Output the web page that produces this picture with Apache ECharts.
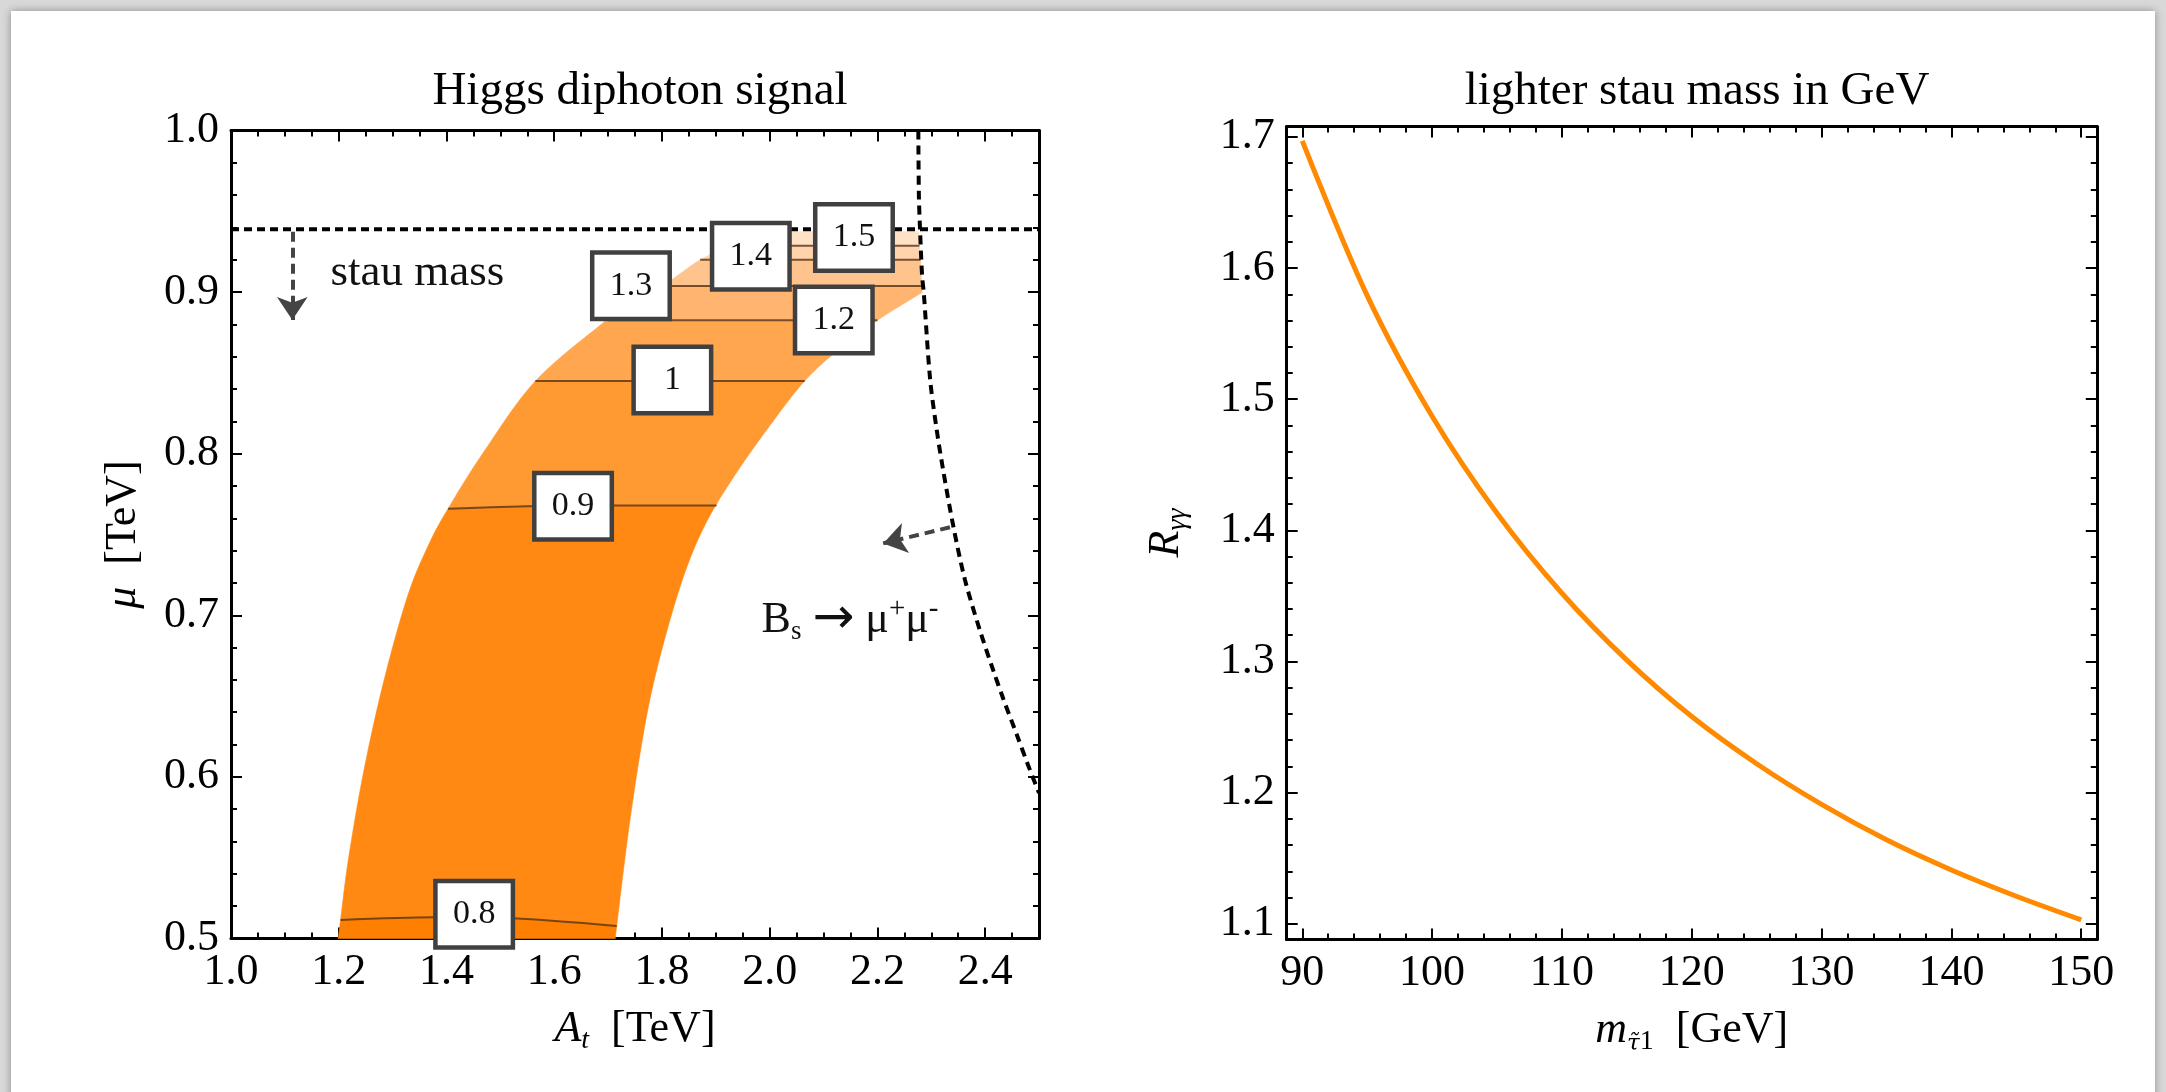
<!DOCTYPE html>
<html>
<head>
<meta charset="utf-8">
<script src="https://cdn.jsdelivr.net/npm/echarts@6.0.0/dist/echarts.min.js"></script>
<style>
  html, body { margin: 0; padding: 0; width: 2166px; height: 1092px; overflow: hidden; background: #d8d8d8; }
  #sheet { position: absolute; left: 11px; top: 11px; width: 2144px; height: 1110px; background: #fff; box-shadow: 0 0 8px rgba(0,0,0,0.35); }
  #chart { position: absolute; left: 0; top: 0; width: 2166px; height: 1092px; }
</style>
</head>
<body>
<div id="sheet"></div>
<div id="chart"></div>
<script>
// 左图：Higgs diphoton 信号带，A_t / μ 平面（TeV）
const bandLeft = [[1.199,0.5],[1.2034,0.5114],[1.218,0.549],[1.2456,0.602],[1.282,0.657],[1.327,0.711],[1.366,0.743],
  [1.403,0.766],[1.469,0.801],[1.565,0.845],[1.687,0.880],[1.70,0.8826],[1.801,0.9038],[1.871,0.920],[1.93,0.9288],[1.99,0.9374]];
// 右边界：自然边界 + 被 Bs 线截断的部分
const bandRightCurve = [[1.7135,0.5],[1.716,0.5077],[1.7407,0.5734],[1.770,0.635],[1.800,0.679],[1.840,0.724],[1.880,0.756],
  [1.930,0.784],[1.995,0.815],[2.065,0.845],[2.135,0.8665],[2.2,0.8826],[2.283,0.8998]];
const bandRightClip = [[2.283,0.8998],[2.282,0.9038],[2.280,0.920],[2.278,0.9288],[2.276,0.9374]];
const bandBottom = [[1.199,0.5],[1.7135,0.5]];
const bandTop = [[1.99,0.9374],[2.276,0.9374]];
const contourLevels = ['0.8','0.9','1','1.2','1.3','1.4','1.5'];
const contourLines = [
  [[1.2034,0.5114],[1.376,0.5131],[1.524,0.5124],[1.716,0.5077]],
  [[1.403,0.766],[1.65,0.768],[1.901,0.768]],
  [[1.565,0.845],[2.065,0.845]],
  [[1.70,0.8826],[2.2,0.8826]],
  [[1.801,0.9038],[2.282,0.9038]],
  [[1.871,0.920],[2.280,0.920]],
  [[1.93,0.9288],[2.278,0.9288]]
];
const bandColors = ['#ff7f00','#ff8912','#ff9a33','#ffa64f','#ffb570','#ffc48e','#ffd3ab','#ffe1c5'];
const contourLabelPos = [[1.4514,0.515],[1.635,0.7675],[1.8194,0.8456],[2.119,0.8828],[1.7425,0.904],[1.965,0.9223],[2.1565,0.9338]];
const stauLine = [[1.0,0.939],[2.5,0.939]];
const bsLine = [[2.276,1.0],[2.277,0.96],[2.279,0.94],[2.283,0.91],[2.286,0.90],[2.298,0.8456],[2.31,0.815],[2.322,0.79],
  [2.341,0.755],[2.3625,0.722],[2.39,0.691],[2.415,0.666],[2.434,0.648],[2.46,0.625],[2.48,0.607],[2.5,0.59]];
const stauArrow = [[1.1138,0.9374],[1.1138,0.8828]];
const bsArrow = [[2.3347,0.7545],[2.2108,0.7445]];
const stauTextPos = [1.1838,0.912];
const bsTextPos = [1.984,0.697];
const leftXTicks = [1.0,1.2,1.4,1.6,1.8,2.0,2.2,2.4];
const leftYTicks = [0.5,0.6,0.7,0.8,0.9,1.0];

// 右图：R_γγ 随较轻 stau 质量变化
const stauMass = [90,95,100,105,110,115,120,125,130,135,140,145,150];
const rGammaGamma = [1.697,1.579,1.487,1.413,1.352,1.301,1.258,1.222,1.191,1.164,1.141,1.121,1.103];
const rightXTicks = [90,100,110,120,130,140,150];
const rightYTicks = [1.1,1.2,1.3,1.4,1.5,1.6,1.7];

const FONT = '"Liberation Serif", "Times New Roman", serif';

function steps(a, b, d) {
  const out = [];
  for (let v = a; v <= b + d / 2; v += d) out.push(+v.toFixed(4));
  return out;
}

// Catmull-Rom 平滑，只用于画边界
function spline(pts, n) {
  const out = [pts[0]];
  for (let i = 0; i < pts.length - 1; i++) {
    const p0 = pts[Math.max(i - 1, 0)], p1 = pts[i], p2 = pts[i + 1], p3 = pts[Math.min(i + 2, pts.length - 1)];
    for (let k = 1; k <= n; k++) {
      const t = k / n, t2 = t * t, t3 = t2 * t;
      const pt = [0, 1].map(d => 0.5 * (2 * p1[d] + (p2[d] - p0[d]) * t +
        (2 * p0[d] - 5 * p1[d] + 4 * p2[d] - p3[d]) * t2 + (3 * p1[d] - p0[d] - 3 * p2[d] + p3[d]) * t3));
      if (k === n) out.push(p2); else out.push(pt);
    }
  }
  return out;
}

const nameRich = {
  i: { fontStyle: 'italic', fontFamily: FONT, fontSize: 44, lineHeight: 50 },
  si: { fontStyle: 'italic', fontFamily: FONT, fontSize: 28, lineHeight: 26, verticalAlign: 'bottom' },
  st: { fontStyle: 'italic', fontFamily: '"DejaVu Serif", serif', fontSize: 23, lineHeight: 26, verticalAlign: 'bottom' },
  su: { fontFamily: FONT, fontSize: 28, lineHeight: 26, verticalAlign: 'bottom' }
};

// 每个边框方向四条轴：带标签主刻度、次刻度、对边主刻度、对边次刻度
function frameAxes(grid, dim, min, max, major, minor, fmt, name, nameGap) {
  const pos = dim === 'x' ? ['bottom', 'top'] : ['left', 'right'];
  const axes = [];
  pos.forEach((p, k) => {
    [major, minor].forEach((vals, m) => {
      const main = k === 0 && m === 0;
      axes.push({
        type: 'value', gridIndex: grid, min, max, position: p,
        axisLine: { show: m === 0, onZero: false, lineStyle: { color: '#000', width: 3 } },
        axisTick: { show: true, inside: true, length: m === 0 ? 11 : 6, customValues: vals,
          lineStyle: { color: '#000', width: 2 } },
        axisLabel: { show: main, customValues: major, formatter: fmt, margin: 12,
          fontFamily: FONT, fontSize: 44, color: '#000' },
        splitLine: { show: false },
        name: main ? name : '',
        nameLocation: 'middle', nameGap: nameGap, nameMoveOverlap: false,
        nameTextStyle: { fontFamily: FONT, fontSize: 44, color: '#000', lineHeight: 50, rich: nameRich }
      });
    });
  });
  return axes;
}

const fmt1 = v => (+v).toFixed(1);
const fmt0 = v => String(Math.round(v));

const xAxes = [].concat(
  frameAxes(0, 'x', 1.0, 2.5, leftXTicks, steps(1.0, 2.5, 0.05), fmt1, '{i|A}{si|t}  [TeV]', 66),
  frameAxes(1, 'x', 88.8, 151.2, rightXTicks, steps(90, 150, 2), fmt0, '{i|m}{st|τ\u0303}{su|1}  [GeV]', 66)
);
const yAxes = [].concat(
  frameAxes(0, 'y', 0.5, 1.0, leftYTicks, steps(0.5, 1.0, 0.02), fmt1, '{i|μ}  [TeV]', 83),
  frameAxes(1, 'y', 1.088, 1.708, rightYTicks, steps(1.1, 1.7, 0.02), fmt1, '{i|R}{si|γγ}', 95)
);

const edges = [bandBottom].concat(contourLines, [bandTop]);
const series = [];

// 填充色带：两条等值线之间，左右用平滑边界
series.push({
  type: 'custom', xAxisIndex: 0, yAxisIndex: 0, z: 1, silent: true,
  data: edges.slice(1).map(e => e[0]),
  renderItem(params, api) {
    const i = params.dataIndex;
    const lower = edges[i], upper = edges[i + 1];
    const leftS = spline(bandLeft, 12);
    const rightS = spline(bandRightCurve, 12).concat(spline(bandRightClip, 6).slice(1));
    const yLoR = lower[lower.length - 1][1], yHiR = upper[upper.length - 1][1];
    const yLoL = lower[0][1], yHiL = upper[0][1];
    const pts = lower.slice();
    rightS.forEach(p => { if (p[1] > yLoR && p[1] < yHiR) pts.push(p); });
    upper.slice().reverse().forEach(p => pts.push(p));
    leftS.slice().reverse().forEach(p => { if (p[1] < yHiL && p[1] > yLoL) pts.push(p); });
    return {
      type: 'polygon',
      shape: { points: pts.map(p => api.coord(p)) },
      style: { fill: bandColors[i], stroke: bandColors[i], lineWidth: 0.6 }
    };
  }
});

// 等值线
contourLines.forEach(line => {
  series.push({
    type: 'line', xAxisIndex: 0, yAxisIndex: 0, z: 2, silent: true, symbol: 'none', smooth: 0.3,
    data: line, lineStyle: { color: 'rgba(85,50,20,0.8)', width: 2 }
  });
});

// stau mass 与 Bs→μμ 约束线
series.push({
  type: 'line', xAxisIndex: 0, yAxisIndex: 0, z: 4, silent: true, symbol: 'none',
  data: stauLine, lineStyle: { color: '#000', width: 4, type: [8, 5] }
});
series.push({
  type: 'line', xAxisIndex: 0, yAxisIndex: 0, z: 4, silent: true, symbol: 'none', smooth: 0.3,
  data: bsLine, lineStyle: { color: '#000', width: 4, type: [9, 6] }
});

// 箭头
series.push({
  type: 'lines', coordinateSystem: 'cartesian2d', xAxisIndex: 0, yAxisIndex: 0, z: 5, silent: true,
  symbol: ['none', 'arrow'], symbolSize: [19, 23],
  lineStyle: { color: '#444', width: 4, type: [10, 6], opacity: 1 },
  data: [{ coords: stauArrow }, { coords: bsArrow }]
});

// 等值线标签框
series.push({
  type: 'scatter', xAxisIndex: 0, yAxisIndex: 0, z: 8, silent: true, symbolSize: 1,
  itemStyle: { color: 'rgba(0,0,0,0)', opacity: 1 },
  data: contourLabelPos.map((p, i) => ({ value: p, name: contourLevels[i] })),
  label: {
    show: true, position: 'inside', formatter: '{b}',
    fontFamily: FONT, fontSize: 34, color: '#111',
    backgroundColor: '#fff', borderColor: '#404040', borderWidth: 4.5,
    width: 73, height: 62, lineHeight: 62, align: 'center', verticalAlign: 'middle'
  }
});

// 文字注释
series.push({
  type: 'scatter', xAxisIndex: 0, yAxisIndex: 0, z: 8, silent: true, symbolSize: 1,
  itemStyle: { color: 'rgba(0,0,0,0)', opacity: 1 },
  data: [
    { value: stauTextPos, label: { formatter: 'stau mass', fontSize: 45 } },
    { value: bsTextPos, label: { formatter: '{m|B}{d|s} {a|→} μ{u|+}μ{u|-}' } }
  ],
  label: {
    show: true, position: 'right', distance: 0,
    fontFamily: FONT, fontSize: 44, color: '#111', lineHeight: 50,
    rich: {
      m: { fontFamily: FONT, fontSize: 44, lineHeight: 50, color: '#111' },
      a: { fontFamily: '"DejaVu Sans", sans-serif', fontSize: 50, lineHeight: 50, color: '#111' },
      d: { fontFamily: FONT, fontSize: 27, lineHeight: 26, verticalAlign: 'bottom', color: '#111' },
      u: { fontFamily: FONT, fontSize: 29, lineHeight: 26, verticalAlign: 'top', color: '#111' }
    }
  }
});

// 右图曲线
series.push({
  type: 'line', xAxisIndex: 4, yAxisIndex: 4, z: 3, silent: true, symbol: 'none',
  smooth: 0.3,
  data: stauMass.map((m, i) => [m, rGammaGamma[i]]),
  lineStyle: { color: '#ff8a00', width: 5 }
});

const chart = echarts.init(document.getElementById('chart'), null, { renderer: 'canvas' });
chart.setOption({
  animation: false,
  title: [
    { text: 'Higgs diphoton signal', left: 635, top: 63, textAlign: 'center',
      textStyle: { fontFamily: FONT, fontSize: 47, fontWeight: 'normal', color: '#000' } },
    { text: 'lighter stau mass in GeV', left: 1692, top: 63, textAlign: 'center',
      textStyle: { fontFamily: FONT, fontSize: 47, fontWeight: 'normal', color: '#000' } }
  ],
  grid: [
    { left: 231, top: 130.6, right: 1127, bottom: 153.6, containLabel: false, outerBoundsMode: 'none' },
    { left: 1286.7, top: 126.4, right: 69.2, bottom: 152.5, containLabel: false, outerBoundsMode: 'none' }
  ],
  xAxis: xAxes,
  yAxis: yAxes,
  series: series
});
</script>
</body>
</html>
